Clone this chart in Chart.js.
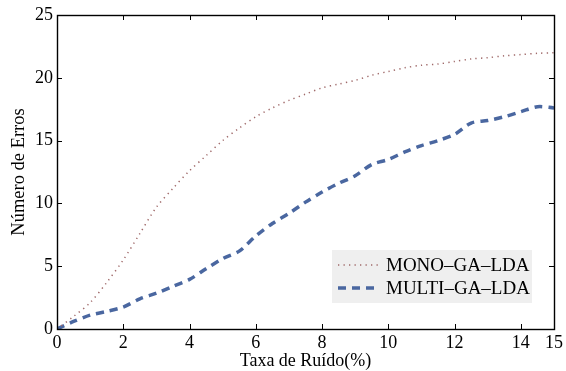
<!DOCTYPE html>
<html>
<head>
<meta charset="utf-8">
<script src="https://cdn.jsdelivr.net/npm/chart.js@4"></script>
<style>
html,body{margin:0;padding:0;background:#fff;}
#wrap{width:566px;height:371px;}
</style>
</head>
<body>
<div id="wrap"><canvas id="c" width="566" height="371"></canvas></div>
<script>
const xValues = [0,0.5,1,1.5,2,2.5,3,3.5,4,4.5,5,5.5,6,6.5,7,7.5,8,8.5,9,9.5,10,10.5,11,11.5,12,12.5,13,13.5,14,14.5,15];
const monoValues = [0,1.0,2.1,3.7,5.5,7.6,9.7,11.2,12.6,13.8,15.0,16.0,16.9,17.6,18.2,18.7,19.2,19.5,19.8,20.2,20.5,20.8,21.0,21.1,21.3,21.5,21.6,21.75,21.85,21.95,22.0];
const multiValues = [0,0.6,1.1,1.4,1.75,2.4,2.85,3.4,3.95,4.8,5.6,6.2,7.4,8.4,9.2,10.1,10.9,11.6,12.2,13.1,13.5,14.1,14.6,15.0,15.5,16.4,16.6,16.9,17.3,17.7,17.6];
const xTicks = [0,2,4,6,8,10,12,14,15];
const yTicks = [0,5,10,15,20,25];
const seriesNames = ['MONO\u2013GA\u2013LDA','MULTI\u2013GA\u2013LDA'];
const xTitle = 'Taxa de Ruído(%)';
const yTitle = 'Número de Erros';

const FONT = "'Liberation Serif', 'DejaVu Serif', serif";

const toPts = (vals) => xValues.map((x,i)=>({x:x,y:vals[i]}));

const tickPlugin = {
  id:'inwardTicks',
  afterDatasetsDraw(chart){
    const ctx = chart.ctx, a = chart.chartArea;
    const xs = chart.scales.x, ys = chart.scales.y;
    ctx.save();
    ctx.strokeStyle = '#000';
    ctx.lineWidth = 1;
    ctx.beginPath();
    xTicks.forEach(v=>{
      const px = Math.round(xs.getPixelForValue(v))+0.5;
      ctx.moveTo(px,a.bottom); ctx.lineTo(px,a.bottom-5);
      ctx.moveTo(px,a.top); ctx.lineTo(px,a.top+5);
    });
    yTicks.forEach(v=>{
      const py = Math.round(ys.getPixelForValue(v))+0.5;
      ctx.moveTo(a.left,py); ctx.lineTo(a.left+5,py);
      ctx.moveTo(a.right,py); ctx.lineTo(a.right-5,py);
    });
    ctx.stroke();
    ctx.lineWidth = 1.4;
    ctx.strokeRect(a.left+0.5, a.top+0.5, a.right-a.left, a.bottom-a.top);
    // legend
    const bx = 332, by = 250, bw = 200, bh = 53;
    ctx.fillStyle = '#efefef';
    ctx.fillRect(bx,by,bw,bh);
    chart.data.datasets.forEach((ds,i)=>{
      const ly = 265 + i*23;
      ctx.strokeStyle = ds.borderColor;
      ctx.lineWidth = ds.borderWidth;
      ctx.setLineDash(ds.borderDash);
      ctx.beginPath();
      ctx.moveTo(338,ly); ctx.lineTo(380,ly);
      ctx.stroke();
      ctx.setLineDash([]);
      ctx.fillStyle = '#000';
      ctx.font = "19px " + FONT;
      ctx.textBaseline = 'middle';
      ctx.textAlign = 'left';
      ctx.fillText(ds.label, 386, ly+1);
    });
    ctx.restore();
  }
};

new Chart(document.getElementById('c'), {
  type:'line',
  data:{
    datasets:[
      {label:seriesNames[0], data:toPts(monoValues), borderColor:'#a06a6a', borderWidth:1.5, borderDash:[1.3,4.2], pointRadius:0, fill:false, tension:0.3},
      {label:seriesNames[1], data:toPts(multiValues), borderColor:'#4a67a0', borderWidth:3.5, borderDash:[8,6], pointRadius:0, fill:false, tension:0.3}
    ]
  },
  options:{
    responsive:false,
    animation:false,
    layout:{padding:{top:15,right:11,left:0,bottom:0}},
    plugins:{legend:{display:false}, tooltip:{enabled:false}},
    scales:{
      x:{
        type:'linear', min:0, max:15,
        afterBuildTicks:(s)=>{ s.ticks = xTicks.map(v=>({value:v})); },
        afterFit:(s)=>{ s.height = 42; },
        grid:{display:false, drawTicks:false},
        border:{display:false},
        ticks:{color:'#000', font:{family:FONT, size:18}, padding:3, maxRotation:0, autoSkip:false},
        title:{display:true, text:xTitle, color:'#000', font:{family:FONT, size:18, lineHeight:1.1}, padding:{top:0,bottom:0}}
      },
      y:{
        min:0, max:25,
        afterBuildTicks:(s)=>{ s.ticks = yTicks.map(v=>({value:v})); },
        afterFit:(s)=>{ s.width = 57; },
        grid:{display:false, drawTicks:false},
        border:{display:false},
        ticks:{color:'#000', font:{family:FONT, size:18}, padding:4},
        title:{display:true, text:yTitle, color:'#000', font:{family:FONT, size:18.5, lineHeight:1.1}, padding:{top:9,bottom:0}}
      }
    }
  },
  plugins:[tickPlugin]
});
</script>
</body>
</html>
